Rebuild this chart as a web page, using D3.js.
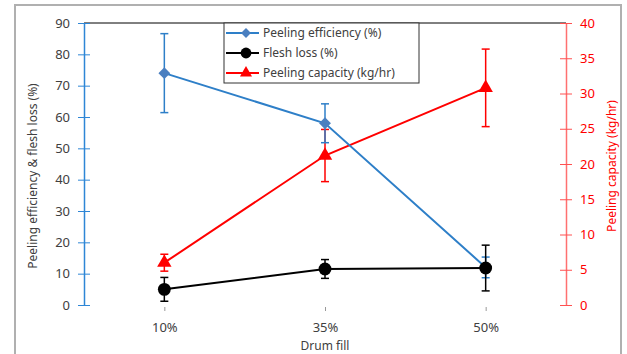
<!DOCTYPE html>
<html>
<head>
<meta charset="utf-8">
<script src="https://cdn.jsdelivr.net/npm/d3@7"></script>
<style>
  body { margin: 0; background: #fff; }
  text { font-family: "Noto Sans", "Open Sans", sans-serif; }
</style>
</head>
<body>
<script>
const categories = ['10%', '35%', '50%'];
// left axis series
const efficiency = [74, 58, 12];
const efficiencyErr = [12.6, 6.2, 3.3];
const fleshLoss = [5, 11.5, 11.8];
const fleshLossErr = [3.8, 3, 7.3];
// right axis series
const capacity = [6, 21.2, 30.8];
const capacityErr = [1.2, 3.7, 5.5];

const leftTicks = [0, 10, 20, 30, 40, 50, 60, 70, 80, 90];
const rightTicks = [0, 5, 10, 15, 20, 25, 30, 35, 40];

const W = 627, H = 354;
const margin = { top: 23, right: 61, bottom: 49, left: 84 };
const width = W - margin.left - margin.right;
const height = H - margin.top - margin.bottom;

const svg = d3.select('body').append('svg')
    .attr('width', W).attr('height', H);

// outer chart frame
svg.append('rect')
    .attr('x', 15).attr('y', 5)
    .attr('width', 606).attr('height', 360)
    .attr('fill', 'none').attr('stroke', '#b0b0b0').attr('stroke-width', 2);

const g = svg.append('g').attr('transform', `translate(${margin.left},${margin.top})`);

const x = d3.scalePoint().domain(categories).range([0, width]).padding(0.5);
const yL = d3.scaleLinear().domain([0, 90]).range([height, 0]);
const yR = d3.scaleLinear().domain([0, 40]).range([height, 0]);

// top border of plot area
g.append('line').attr('x1', 0).attr('x2', width).attr('y1', 0).attr('y2', 0)
    .attr('stroke', '#000').attr('stroke-width', 1);

// left axis
const axL = g.append('g').call(d3.axisLeft(yL).tickValues(leftTicks).tickSizeInner(6).tickSizeOuter(0).tickPadding(8));
axL.select('.domain').attr('stroke', '#2e86d6').attr('stroke-width', 1.5);
axL.selectAll('.tick line').attr('stroke', '#2e86d6').attr('x2', 6).attr('x1', -6);
axL.selectAll('.tick text').attr('fill', '#404040').attr('font-size', 13);

// right axis
const axR = g.append('g').attr('transform', `translate(${width},0)`)
    .call(d3.axisRight(yR).tickValues(rightTicks).tickSizeInner(6).tickSizeOuter(0).tickPadding(8));
axR.select('.domain').attr('stroke', '#ff7070').attr('stroke-width', 1.5);
axR.selectAll('.tick line').attr('stroke', '#ff5050').attr('x1', -6).attr('x2', 6);
axR.selectAll('.tick text').attr('fill', '#ff0000').attr('font-size', 13);

// bottom axis: ticks only
const axB = g.append('g').attr('transform', `translate(0,${height + 2})`)
    .call(d3.axisBottom(x).tickSizeInner(4).tickSizeOuter(0).tickPadding(12));
axB.select('.domain').remove();
axB.selectAll('.tick line').attr('stroke', '#999');
axB.selectAll('.tick text').attr('fill', '#404040').attr('font-size', 13);

// axis titles
svg.append('text').attr('transform', `translate(37,${margin.top + height / 2 + 12}) rotate(-90)`)
    .attr('text-anchor', 'middle').attr('font-size', 12).attr('fill', '#404040')
    .text('Peeling efficiency & flesh loss (%)');
svg.append('text').attr('transform', `translate(616,${margin.top + height / 2 + 2}) rotate(-90)`)
    .attr('text-anchor', 'middle').attr('font-size', 12).attr('fill', '#ff0000')
    .text('Peeling capacity (kg/hr)');
svg.append('text').attr('x', margin.left + width / 2).attr('y', 350)
    .attr('text-anchor', 'middle').attr('font-size', 12).attr('fill', '#404040')
    .text('Drum fill');

const series = [
    { name: 'Peeling efficiency (%)', vals: efficiency, err: efficiencyErr, y: yL, line: '#2e7fc8', fill: '#4a7fc0', marker: d3.symbolSquare, rot: 45, size: 70 },
    { name: 'Flesh loss (%)', vals: fleshLoss, err: fleshLossErr, y: yL, line: '#000', fill: '#000', marker: d3.symbolCircle, rot: 0, size: 130 },
    { name: 'Peeling capacity (kg/hr)', vals: capacity, err: capacityErr, y: yR, line: '#ff0000', fill: '#ff0000', marker: d3.symbolTriangle, rot: 0, size: 90 }
];

// draw in order: capacity, efficiency, flesh loss (flesh on top)
[series[2], series[0], series[1]].forEach(s => {
    const pts = categories.map((c, i) => ({ c, v: s.vals[i], e: s.err[i] }));
    const line = d3.line().x(d => x(d.c)).y(d => s.y(d.v));
    g.append('path').datum(pts)
        .attr('fill', 'none').attr('stroke', s.line).attr('stroke-width', 2).attr('d', line);
    const eb = g.append('g').selectAll('g').data(pts).join('g');
    eb.append('line')
        .attr('x1', d => x(d.c)).attr('x2', d => x(d.c))
        .attr('y1', d => s.y(d.v - d.e)).attr('y2', d => s.y(d.v + d.e))
        .attr('stroke', s.line).attr('stroke-width', 1.5);
    [-1, 1].forEach(k => {
        eb.append('line')
            .attr('x1', d => x(d.c) - 4).attr('x2', d => x(d.c) + 4)
            .attr('y1', d => s.y(d.v + k * d.e)).attr('y2', d => s.y(d.v + k * d.e))
            .attr('stroke', s.line).attr('stroke-width', 1.5);
    });
    g.append('g').selectAll('path').data(pts).join('path')
        .attr('transform', d => `translate(${x(d.c)},${s.y(d.v)}) rotate(${s.rot})`)
        .attr('d', d3.symbol(s.marker, s.size))
        .attr('fill', s.fill);
});

// legend
const lg = svg.append('g').attr('transform', 'translate(224,23)');
lg.append('rect').attr('width', 195).attr('height', 60)
    .attr('fill', '#fff').attr('stroke', '#333').attr('stroke-width', 1);
series.forEach((s, i) => {
    const yy = 10 + i * 20;
    lg.append('line').attr('x1', 2).attr('x2', 35).attr('y1', yy).attr('y2', yy)
        .attr('stroke', s.line).attr('stroke-width', 2);
    lg.append('path').attr('transform', `translate(22,${yy}) rotate(${s.rot})`)
        .attr('d', d3.symbol(s.marker, s.size * 0.7)).attr('fill', s.fill);
    lg.append('text').attr('x', 39).attr('y', yy).attr('dy', '0.35em')
        .attr('font-size', 12).attr('fill', '#404040').text(s.name);
});
</script>
</body>
</html>
